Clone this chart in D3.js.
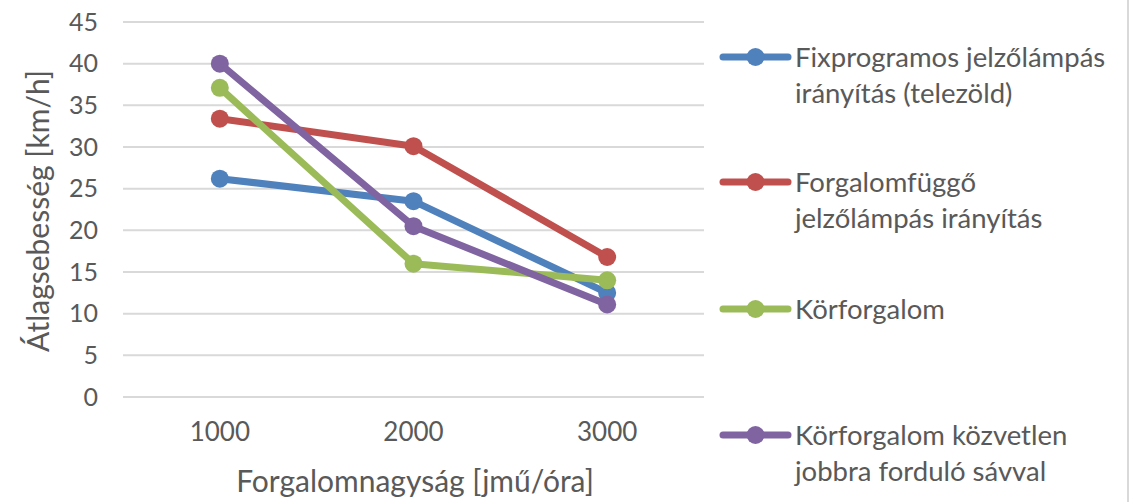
<!DOCTYPE html>
<html><head><meta charset="utf-8">
<script src="https://cdn.jsdelivr.net/npm/d3@7"></script>
<style>html,body{margin:0;padding:0;background:#fff;}svg{display:block;}</style>
</head><body>
<script>
const categories = [1000, 2000, 3000];
const yTicks = [0, 5, 10, 15, 20, 25, 30, 35, 40, 45];
const seriesNames = [
  ["Fixprogramos jelzőlámpás", "irányítás (telezöld)"],
  ["Forgalomfüggő", "jelzőlámpás irányítás"],
  ["Körforgalom"],
  ["Körforgalom közvetlen", "jobbra forduló sávval"]
];
const fixValues = [26.2, 23.5, 12.5];
const fuggoValues = [33.4, 30.1, 16.8];
const korValues = [37.1, 16.0, 14.0];
const korJobbValues = [40.0, 20.5, 11.1];
const colors = ["#4F81BD", "#C0504D", "#9BBB59", "#8064A2"];
const xTitle = "Forgalomnagyság [jmű/óra]";
const yTitle = "Átlagsebesség [km/h]";

const series = [fixValues, fuggoValues, korValues, korJobbValues];
const W = 1130, H = 502;
const font = "Lato, 'Open Sans', sans-serif";
const txt = "#595959";
const svg = d3.select("body").append("svg").attr("width", W).attr("height", H);

const x = d3.scaleBand().domain(categories).range([123, 704]);
const y = d3.scaleLinear().domain([0, 45]).range([397, 22]);

// gridlines
svg.append("g").selectAll("line").data(yTicks).join("line")
  .attr("x1", 123).attr("x2", 704)
  .attr("y1", d => y(d)).attr("y2", d => y(d))
  .attr("stroke", "#D9D9D9").attr("stroke-width", 2);

// y axis labels
const yAxis = svg.append("g").attr("transform", "translate(110,0)")
  .call(d3.axisLeft(y).tickValues(yTicks).tickSize(0).tickPadding(12));
yAxis.select(".domain").remove();
yAxis.selectAll("text").attr("fill", txt).style("font-family", font).style("font-size", "25px");

// x axis labels
const xAxis = svg.append("g").attr("transform", "translate(0,423)")
  .call(d3.axisBottom(x).tickSize(0).tickPadding(0));
xAxis.select(".domain").remove();
xAxis.selectAll("text").attr("fill", txt).style("font-family", font).style("font-size", "26px");

// titles
svg.append("text").attr("x", 415).attr("y", 492).attr("text-anchor", "middle")
  .attr("fill", txt).style("font-family", font).style("font-size", "30px").text(xTitle);
svg.append("text").attr("transform", "translate(49,211) rotate(-90)").attr("text-anchor", "middle")
  .attr("fill", txt).style("font-family", font).style("font-size", "30px").text(yTitle);

// lines
const line = d3.line().x((d, i) => x(categories[i]) + x.bandwidth() / 2).y(d => y(d));
series.forEach((vals, s) => {
  const g = svg.append("g");
  g.append("path").datum(vals).attr("d", line).attr("fill", "none")
    .attr("stroke", colors[s]).attr("stroke-width", 7).attr("stroke-linejoin", "round").attr("stroke-linecap", "round");
  g.selectAll("circle").data(vals).join("circle")
    .attr("cx", (d, i) => x(categories[i]) + x.bandwidth() / 2).attr("cy", d => y(d))
    .attr("r", 9).attr("fill", colors[s]);
});

// legend
const legendY = [57, 182, 309, 435];
series.forEach((vals, s) => {
  const g = svg.append("g").attr("transform", `translate(0,${legendY[s]})`);
  g.append("line").attr("x1", 723).attr("x2", 788).attr("y1", 0).attr("y2", 0)
    .attr("stroke", colors[s]).attr("stroke-width", 7).attr("stroke-linecap", "round");
  g.append("circle").attr("cx", 755.5).attr("cy", 0).attr("r", 9).attr("fill", colors[s]);
  seriesNames[s].forEach((t, k) => {
    g.append("text").attr("x", 795).attr("y", k * 36 + 10).attr("fill", txt)
      .style("font-family", font).style("font-size", "27.5px").text(t);
  });
});

// right border
svg.append("line").attr("x1", 1128).attr("x2", 1128).attr("y1", 0).attr("y2", H)
  .attr("stroke", "#D9D9D9").attr("stroke-width", 2);
</script>
</body></html>
